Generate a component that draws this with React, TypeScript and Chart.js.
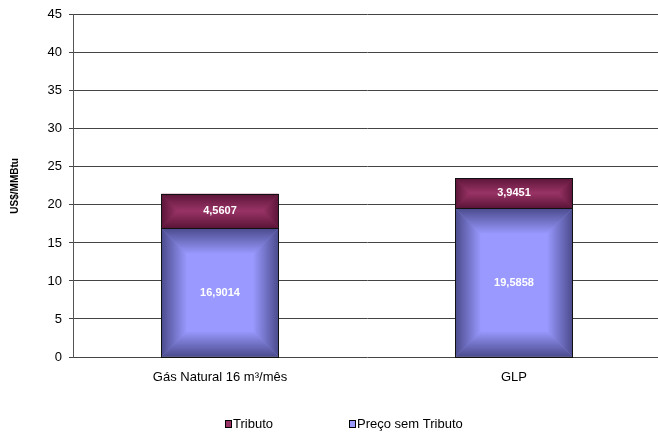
import { useEffect, useRef } from "react";
import { Chart, registerables } from "chart.js";

Chart.register(...registerables);

const categories = ["Gás Natural 16 m³/mês", "GLP"];
const precoSemTributo = [16.9014, 19.5858];
const tributo = [4.5607, 3.9451];
const seriesNames = ["Preço sem Tributo", "Tributo"];
const yAxisTitle = "US$/MMBtu";
const yMin = 0;
const yMax = 45;
const yStep = 5;

const FONT = "'Liberation Sans', Arial, sans-serif";

const fmt = (v: number) => v.toFixed(4).replace(".", ",");

const bevelPlugin = {
  id: "bevel",
  afterDatasetsDraw(chart: any) {
    const ctx: CanvasRenderingContext2D = chart.ctx;
    chart.data.datasets.forEach((ds: any, di: number) => {
      const meta = chart.getDatasetMeta(di);
      meta.data.forEach((bar: any, i: number) => {
        const { x, y, base, width } = bar.getProps(["x", "y", "base", "width"], true);
        const left = Math.round(x - width / 2);
        const right = Math.round(x + width / 2);
        const top = Math.round(Math.min(y, base));
        const bottom = Math.round(Math.max(y, base));
        const w = right - left;
        const h = bottom - top;
        const b = Math.min(26, w / 2, h / 2);
        const edge = ds.edgeColor as string;
        const clear = ds.edgeClear as string;
        const side = (pts: number[][], gx0: number, gy0: number, gx1: number, gy1: number) => {
          const g = ctx.createLinearGradient(gx0, gy0, gx1, gy1);
          g.addColorStop(0, edge);
          g.addColorStop(1, clear);
          ctx.beginPath();
          ctx.moveTo(pts[0][0], pts[0][1]);
          for (let k = 1; k < pts.length; k++) ctx.lineTo(pts[k][0], pts[k][1]);
          ctx.closePath();
          ctx.fillStyle = g;
          ctx.fill();
        };
        ctx.save();
        side([[left, top], [left + b, top + b], [left + b, bottom - b], [left, bottom]], left, 0, left + b, 0);
        side([[right, top], [right - b, top + b], [right - b, bottom - b], [right, bottom]], right, 0, right - b, 0);
        side([[left, top], [right, top], [right - b, top + b], [left + b, top + b]], 0, top, 0, top + b);
        side([[left, bottom], [right, bottom], [right - b, bottom - b], [left + b, bottom - b]], 0, bottom, 0, bottom - b);
        ctx.strokeStyle = "#111";
        ctx.lineWidth = 1;
        ctx.strokeRect(left + 0.5, top + 0.5, w - 1, h);
        ctx.fillStyle = "#ffffff";
        ctx.font = `bold 11px ${FONT}`;
        ctx.textAlign = "center";
        ctx.textBaseline = "middle";
        ctx.fillText(fmt(ds.data[i]), (left + right) / 2, (top + bottom) / 2);
        ctx.restore();
      });
    });
  },
};

const legendPlugin = {
  id: "customLegend",
  afterDraw(chart: any) {
    const ctx: CanvasRenderingContext2D = chart.ctx;
    const items = [
      { label: seriesNames[1], color: "#993366", x: 225 },
      { label: seriesNames[0], color: "#9999ff", x: 349 },
    ];
    const cy = 424;
    ctx.save();
    ctx.font = `13px ${FONT}`;
    ctx.textBaseline = "middle";
    ctx.textAlign = "left";
    items.forEach((it) => {
      ctx.fillStyle = it.color;
      ctx.fillRect(it.x, cy - 4, 6, 7);
      ctx.strokeStyle = "#000";
      ctx.lineWidth = 1;
      ctx.strokeRect(it.x + 0.5, cy - 3.5, 6, 7);
      ctx.fillStyle = "#000";
      ctx.fillText(it.label, it.x + 8, cy);
    });
    ctx.restore();
  },
};

export default function App() {
  const ref = useRef<HTMLCanvasElement>(null);
  useEffect(() => {
    if (!ref.current) return;
    const chart = new Chart(ref.current, {
      type: "bar",
      data: {
        labels: categories,
        datasets: [
          {
            label: seriesNames[0],
            data: precoSemTributo,
            backgroundColor: "#9999ff",
            borderWidth: 0,
            edgeColor: "rgba(40,40,90,0.7)",
            edgeClear: "rgba(40,40,90,0)",
          } as any,
          {
            label: seriesNames[1],
            data: tributo,
            backgroundColor: "#993366",
            borderWidth: 0,
            edgeColor: "rgba(50,0,25,0.6)",
            edgeClear: "rgba(50,0,25,0)",
          } as any,
        ],
      },
      options: {
        responsive: false,
        animation: false,
        maintainAspectRatio: false,
        layout: { padding: { left: 0, right: 1, top: 14, bottom: 37 } },
        datasets: { bar: { categoryPercentage: 0.4, barPercentage: 1 } },
        plugins: { legend: { display: false }, tooltip: { enabled: false } },
        scales: {
          x: {
            stacked: true,
            grid: { display: false, drawTicks: false },
            border: { display: false },
            ticks: { color: "#000", font: { family: FONT, size: 13 }, padding: 13, maxRotation: 0 },
            afterFit: (s: any) => {
              s.height = 40;
            },
          },
          y: {
            stacked: true,
            min: yMin,
            max: yMax,
            grid: { color: "#444", lineWidth: 1, tickLength: 4 },
            border: { display: true, color: "#555", width: 1 },
            ticks: { stepSize: yStep, color: "#000", font: { family: FONT, size: 13 }, padding: 7 },
            title: {
              display: true,
              text: yAxisTitle,
              color: "#000",
              font: { family: FONT, size: 10, weight: "bold" },
              padding: { top: 9, bottom: 0 },
            },
            afterFit: (s: any) => {
              s.width = 73;
            },
          },
        },
      },
      plugins: [bevelPlugin, legendPlugin],
    });
    return () => chart.destroy();
  }, []);
  return (
    <div style={{ position: "absolute", left: 0, top: 0, width: 658, height: 434, overflow: "hidden", background: "#fff" }}>
      <canvas ref={ref} width={662} height={434} />
    </div>
  );
}
